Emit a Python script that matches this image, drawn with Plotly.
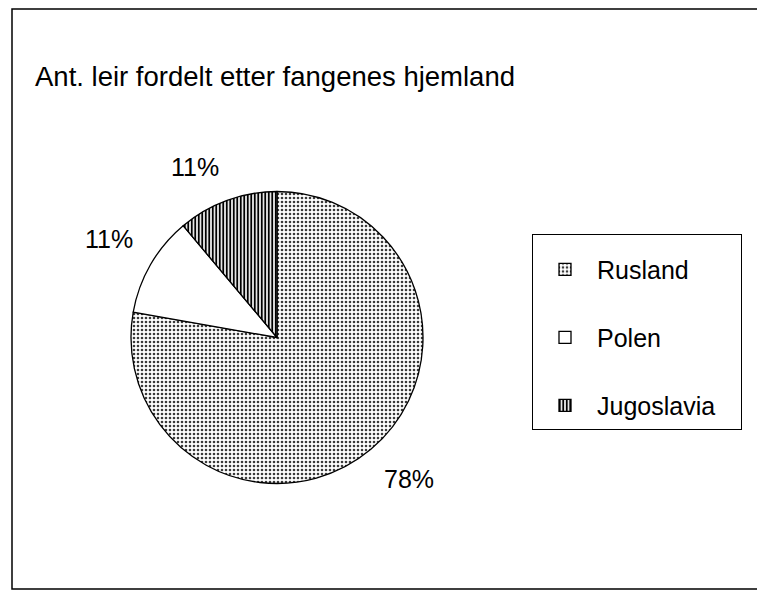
import math
import plotly.graph_objects as go

# ---- data ----
countries = ["Rusland", "Polen", "Jugoslavia"]
camps = [7, 1, 1]  # antall leir -> 78%, 11%, 11%
title_text = "Ant. leir fordelt etter fangenes hjemland"

# page body has an 8px margin; figure sized to fill the rest of the window
W, H = 757, 583
ML, MR, MT, MB = 4, 3, 1, 2
PW, PH = W - ML - MR, H - MT - MB

# pie geometry (paper coords)
cx = (269 - ML) / PW
cy = (H - MB - 329.5) / PH
R = 146  # px

dom_x = [cx - R / PW, cx + R / PW]
dom_y = [cy - R / PH, cy + R / PH]

# legend entries: a blank second line gives the wide vertical spacing of the original
pad = "\u00a0" * 20
legend_labels = [countries[0] + "<br>" + pad] + [c + "<br> " for c in countries[1:-1]] + [countries[-1]]

patterns = [
    dict(shape=".", fgcolor="#3a3a3a", bgcolor="white", size=4, solidity=0.33),
    dict(shape="", fgcolor="black", bgcolor="white", size=4, solidity=0.3),
    dict(shape="|", fgcolor="black", bgcolor="white", size=3.5, solidity=0.55),
]

fig = go.Figure()
fig.add_trace(go.Pie(
    labels=legend_labels,
    values=camps,
    customdata=countries,
    sort=False,
    direction="clockwise",
    rotation=0,
    textinfo="none",
    hovertemplate="%{customdata}: %{percent}<extra></extra>",
    marker=dict(
        colors=["white", "white", "white"],
        line=dict(color="black", width=1.3),
        pattern=dict(
            shape=[p["shape"] for p in patterns],
            fgcolor=[p["fgcolor"] for p in patterns],
            bgcolor=[p["bgcolor"] for p in patterns],
            size=[p["size"] for p in patterns],
            solidity=[p["solidity"] for p in patterns],
        ),
    ),
    domain=dict(x=dom_x, y=dom_y),
))

# percentage labels positioned from slice mid-angles
total = sum(camps)
annotations = []
cum = 0
r_lab = 164
for v in camps:
    frac = v / total
    mid = (cum + frac / 2) * 2 * math.pi  # clockwise from 12 o'clock
    cum += frac
    dx = r_lab * math.sin(mid)
    dy = r_lab * math.cos(mid)
    annotations.append(dict(
        x=cx + dx / PW, y=cy + dy / PH, xref="paper", yref="paper",
        text=f"{round(frac * 100)}%", showarrow=False,
        xanchor="left" if dx >= 0 else "right",
        yanchor="bottom" if dy >= 0 else "top",
        font=dict(size=25, color="black"),
    ))

fig.update_layout(
    width=W, height=H,
    margin=dict(l=ML, r=MR, t=MT, b=MB),
    paper_bgcolor="white",
    plot_bgcolor="white",
    font=dict(family="Liberation Sans, Arial, sans-serif", color="black"),
    title=dict(
        text=title_text, x=(27 - ML) / PW, xref="paper", xanchor="left",
        y=1 - 68 / H, yref="container", yanchor="middle",
        font=dict(size=27.5, color="black"),
    ),
    legend=dict(
        x=(524 - ML) / PW, y=(H - MB - 226) / PH, xanchor="left", yanchor="top",
        bordercolor="black", borderwidth=1, bgcolor="white",
        font=dict(size=25, color="black"),
        valign="top",
        itemwidth=54,
        title=dict(text=" ", font=dict(size=9)),
    ),
    annotations=annotations,
    shapes=[dict(type="rect", xref="paper", yref="paper", x0=0, y0=0, x1=1, y1=1,
                 line=dict(color="black", width=1.5))],
)

fig.write_html("out.html")
